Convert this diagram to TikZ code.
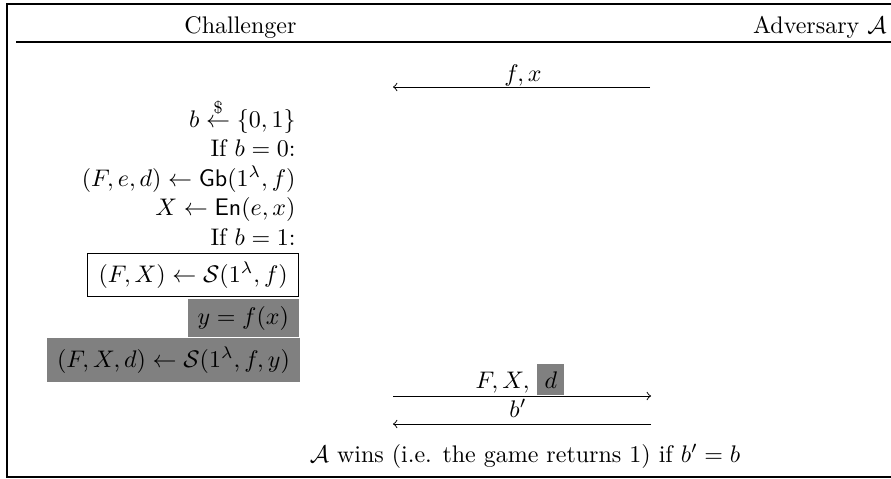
\documentclass[tikz,border=0pt]{standalone}
\usepackage{amsmath}
\begin{document}
\begin{tikzpicture}[x=0.41667pt,y=-0.41667pt,
  txt/.style={inner sep=0pt},
  msg/.style={line width=0.4pt},
  framebox/.style={draw, line width=0.4pt, inner xsep=4.5pt, inner ysep=0pt, anchor=east},
  graybox/.style={fill=gray, inner xsep=4pt, inner ysep=0pt, anchor=east},
  rule/.style={line width=0.6pt}]
\useasboundingbox (0,0) rectangle (891,479);
% outer frame and header rule
\coordinate (fTL) at (7,4);
\coordinate (fBR) at (900,477);
\draw[rule] (fTL) rectangle (fBR);
\coordinate (hL) at (16,42);
\coordinate (hR) at (900,42);
\draw[rule] (hL) -- (hR);
% headers
\node[txt, anchor=base east] (chal) at (297,33) {Challenger};
\node[txt, anchor=base east] (adv) at (887,33) {Adversary $\mathcal{A}$};
% first message
\coordinate (m1R) at (650,87);
\coordinate (m1L) at (393,87);
\draw[msg, -to] (m1R) -- (m1L);
\node[txt, anchor=base] (m1lab) at (523,81) {$f,x$};
% challenger column
\node[txt, anchor=base east] (l1) at (296,127) {$b \overset{\$}{\leftarrow} \{0,1\}$};
\node[txt, anchor=base east] (l2) at (296,156) {If $b=0$:};
\node[txt, anchor=base east] (l3) at (296,186) {$(F,e,d) \leftarrow \mathsf{Gb}(1^\lambda, f)$};
\node[txt, anchor=base east] (l4) at (296,215) {$X \leftarrow \mathsf{En}(e,x)$};
\node[txt, anchor=base east] (l5) at (296,245) {If $b=1$:};
\node[framebox, minimum height=18.3pt] (l6) at (299,275) {$(F,X) \leftarrow \mathcal{S}(1^\lambda, f)$};
\node[graybox, minimum height=15.8pt] (l7) at (299,318) {$y = f(x)$};
\node[graybox, minimum height=18.3pt] (l8) at (300,360) {$(F,X,d) \leftarrow \mathcal{S}(1^\lambda, f, y)$};
% second message
\coordinate (m2L) at (393,396);
\coordinate (m2R) at (651,396);
\draw[msg, -to] (m2L) -- (m2R);
\node[txt, anchor=base] (m2lab) at (520,388) {$F,X,$ \colorbox{gray}{$d$}};
% third message
\coordinate (m3R) at (651,424);
\coordinate (m3L) at (393,424);
\draw[msg, -to] (m3R) -- (m3L);
\node[txt, anchor=base] (m3lab) at (518,417) {$b'$};
% result
\node[txt, anchor=base] (win) at (525,462) {$\mathcal{A}$ wins (i.e. the game returns 1) if $b' = b$};
\end{tikzpicture}
\end{document}
